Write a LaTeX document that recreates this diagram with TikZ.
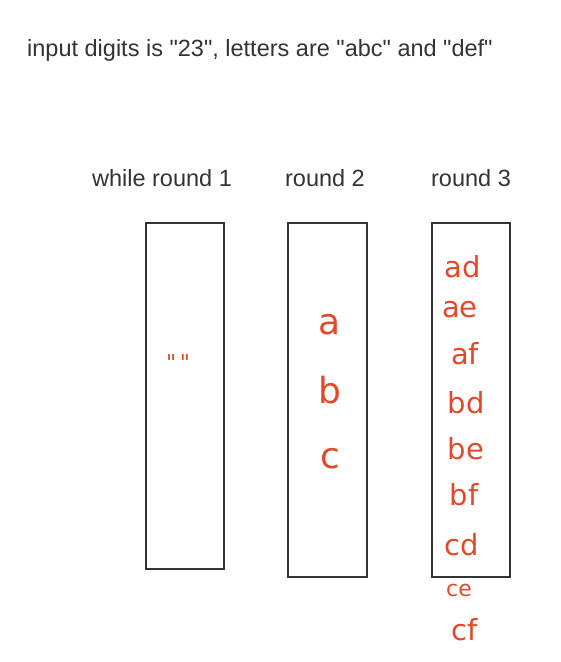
\documentclass[tikz,border=0pt]{standalone}
\usepackage{fontspec}
\setmainfont{Liberation Sans}
\newfontfamily\handfont{DejaVu Sans}
\definecolor{hand}{HTML}{E04A2A}
\definecolor{ink}{HTML}{333333}
\begin{document}
\begin{tikzpicture}[x=1pt,y=-1pt,
  col/.style={draw=ink,line width=2pt},
  lbl/.style={font=\fontsize{23.5}{26}\selectfont,text=ink,inner sep=0pt},
  hwb/.style={font=\handfont\fontsize{36}{38}\selectfont,text=hand,inner sep=0pt},
  hw/.style={font=\handfont\fontsize{29}{30}\selectfont,text=hand,inner sep=0pt},
  hws/.style={font=\handfont\fontsize{22}{24}\selectfont,text=hand,inner sep=0pt}]
\useasboundingbox (0,0) rectangle (561,662);
\node[lbl,anchor=west] (title) at (27,50) {input digits is \textquotedbl23\textquotedbl, letters are \textquotedbl abc\textquotedbl\ and \textquotedbl def\textquotedbl};
\node[lbl] (l1) at (162,178) {while round 1};
\node[lbl] (l2) at (325,178) {round 2};
\node[lbl] (l3) at (471,178) {round 3};
\draw[col] (146,223) rectangle (224,569);
\draw[col] (288,223) rectangle (367,577);
\draw[col] (432,223) rectangle (510,577);
\node[hws] (q) at (178,362) {\textquotedbl\,\textquotedbl};
\node[hwb] (a) at (330,325) {a};
\node[hwb] (b) at (330,390) {b};
\node[hwb] (c) at (330,459) {c};
\node[hw] (ad) at (463,267) {ad};
\node[hw] (ae) at (460,310) {ae};
\node[hw] (af) at (465,354) {af};
\node[hw] (bd) at (466,403) {bd};
\node[hw] (be) at (466,449) {be};
\node[hw] (bf) at (464,495) {bf};
\node[hw] (cd) at (462,545) {cd};
\node[hws] (ce) at (459,590) {ce};
\node[hw] (cf) at (465,630) {cf};
\end{tikzpicture}
\end{document}
